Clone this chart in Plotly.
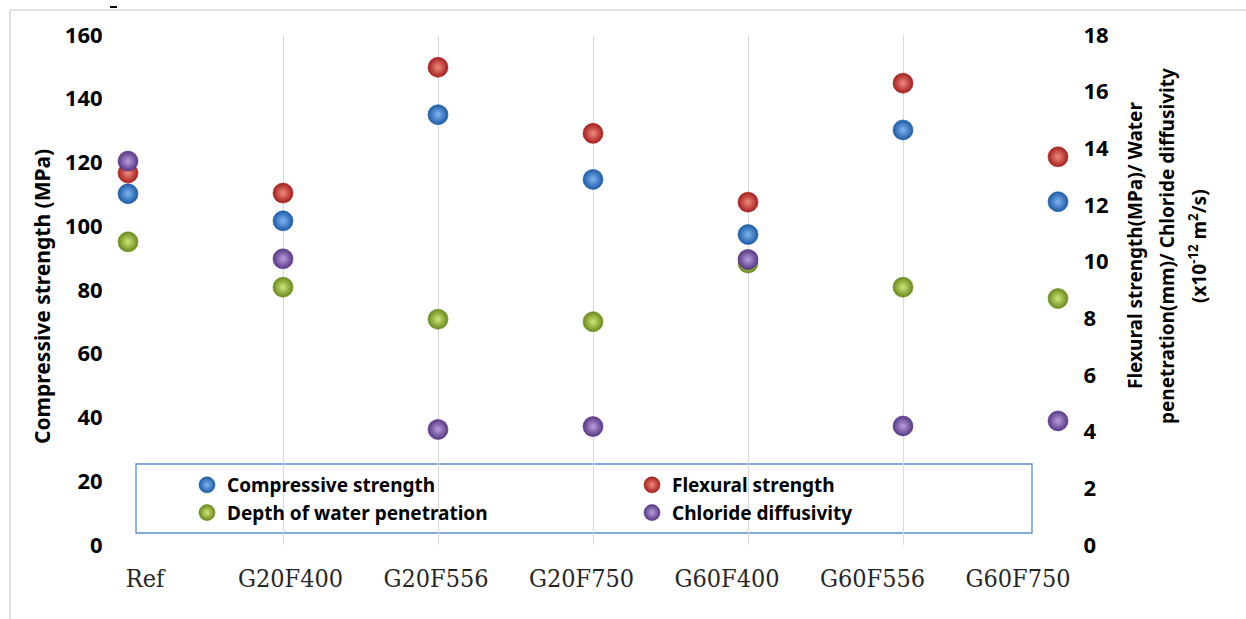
import plotly.graph_objects as go

categories = ["Ref", "G20F400", "G20F556", "G20F750", "G60F400", "G60F556", "G60F750"]
compressive = [110.2, 101.7, 135.0, 114.7, 97.4, 130.2, 107.7]
flexural = [13.13, 12.42, 16.86, 14.53, 12.10, 16.30, 13.70]
water_depth = [10.70, 9.10, 7.97, 7.88, 9.95, 9.10, 8.70]
chloride = [13.55, 10.10, 4.08, 4.18, 10.08, 4.20, 4.38]

left_ticks = [0, 20, 40, 60, 80, 100, 120, 140, 160]
right_ticks = [0, 2, 4, 6, 8, 10, 12, 14, 16, 18]

W, H = 1246, 619
L, R, T, B = 128, 188, 35, 74
PW, PH = W - L - R, H - T - B


def px(x):
    return (x - L) / PW


def py(y):
    return (H - B - y) / PH


def ball(edge, light):
    return dict(size=20, color=edge, gradient=dict(type="radial", color=light),
                line=dict(width=0.6, color=edge))


fig = go.Figure()
fig.add_trace(go.Scatter(x=categories, y=compressive, mode="markers", name="Compressive strength",
                         marker=ball("#1d5ba8", "#7fb6ee"), cliponaxis=False, yaxis="y",
                         legend="legend"))
fig.add_trace(go.Scatter(x=categories, y=flexural, mode="markers", name="Flexural strength",
                         marker=ball("#a51f1b", "#f08a80"), cliponaxis=False, yaxis="y2",
                         legend="legend2"))
fig.add_trace(go.Scatter(x=categories, y=water_depth, mode="markers", name="Depth of water penetration",
                         marker=ball("#6a8a1c", "#cfe77a"), cliponaxis=False, yaxis="y2",
                         legend="legend"))
fig.add_trace(go.Scatter(x=categories, y=chloride, mode="markers", name="Chloride diffusivity",
                         marker=ball("#583786", "#b9a0dc"), cliponaxis=False, yaxis="y2",
                         legend="legend2"))
# helper trace so the label axis is drawn
fig.add_trace(go.Scatter(x=categories, y=[None] * len(categories), xaxis="x2", yaxis="y",
                         showlegend=False, hoverinfo="skip", mode="markers"))

tickfont = dict(family="Noto Sans", size=22, color="#000000", weight="bold")
legfont = dict(family="Noto Sans", size=19, color="#000000", weight="bold")

fig.update_layout(
    width=W, height=H,
    margin=dict(l=L, r=R, t=T, b=B),
    paper_bgcolor="white", plot_bgcolor="white",
    showlegend=True,
    xaxis=dict(type="category", range=[0, 6], showticklabels=False, showgrid=True,
               gridcolor="#d9d9d9", gridwidth=1, zeroline=False, showline=False, ticks=""),
    xaxis2=dict(type="category", overlaying="x", side="bottom", anchor="y",
                range=[-0.117, 6.275], showgrid=False, zeroline=False, showline=False,
                ticks="outside", ticklen=11, tickcolor="rgba(0,0,0,0)",
                tickfont=dict(family="DejaVu Serif Condensed", size=25, color="#262626")),
    yaxis=dict(range=[0, 160], tickvals=left_ticks, showgrid=False, zeroline=False,
               showline=False, ticks="outside", ticklen=20, tickcolor="rgba(0,0,0,0)",
               tickfont=tickfont),
    yaxis2=dict(range=[0, 18], tickvals=right_ticks, overlaying="y", side="right",
                showgrid=False, zeroline=False, showline=False, ticks="outside",
                ticklen=20, tickcolor="rgba(0,0,0,0)", tickfont=tickfont),
    legend=dict(orientation="v", x=px(187), y=py(466), xanchor="left", yanchor="top",
                bgcolor="rgba(0,0,0,0)", font=legfont, itemclick=False),
    legend2=dict(orientation="v", x=px(632), y=py(466), xanchor="left", yanchor="top",
                 bgcolor="rgba(0,0,0,0)", font=legfont, itemclick=False),
)

fig.add_annotation(text="Compressive strength (MPa)", textangle=-90, xref="paper", yref="paper",
                   x=px(42), y=py(297), showarrow=False,
                   font=dict(family="Noto Sans", size=21, color="#000000", weight="bold"),
                   xanchor="center", yanchor="middle")
right_lines = ["Flexural strength(MPa)/ Water",
               "penetration(mm)/ Chloride diffusivity",
               "(x10<sup>-12</sup> m<sup>2</sup>/s)"]
for line, xpos in zip(right_lines, [1135, 1167, 1198]):
    fig.add_annotation(text=line, textangle=-90, xref="paper", yref="paper",
                       x=px(xpos), y=py(246), showarrow=False,
                       font=dict(family="Noto Sans", size=19, color="#000000", weight="bold"),
                       xanchor="center", yanchor="middle")

# legend box
fig.add_shape(type="rect", xref="paper", yref="paper", x0=px(136), x1=px(1032),
              y0=py(533), y1=py(464), line=dict(color="#5b8fd0", width=1.3),
              fillcolor="rgba(0,0,0,0)", layer="below")
# outer chart frame
fig.add_shape(type="line", xref="paper", yref="paper", x0=px(10), x1=px(1246),
              y0=py(10), y1=py(10), line=dict(color="#d9d9d9", width=1.5))
fig.add_shape(type="line", xref="paper", yref="paper", x0=px(10), x1=px(10),
              y0=py(10), y1=py(619), line=dict(color="#d9d9d9", width=1.5))
fig.add_shape(type="line", xref="paper", yref="paper", x0=px(110), x1=px(117),
              y0=py(7), y1=py(7), line=dict(color="#000000", width=2))

fig.write_html("out.html", config={"displayModeBar": False},
               post_script="document.body.style.margin='0';")
